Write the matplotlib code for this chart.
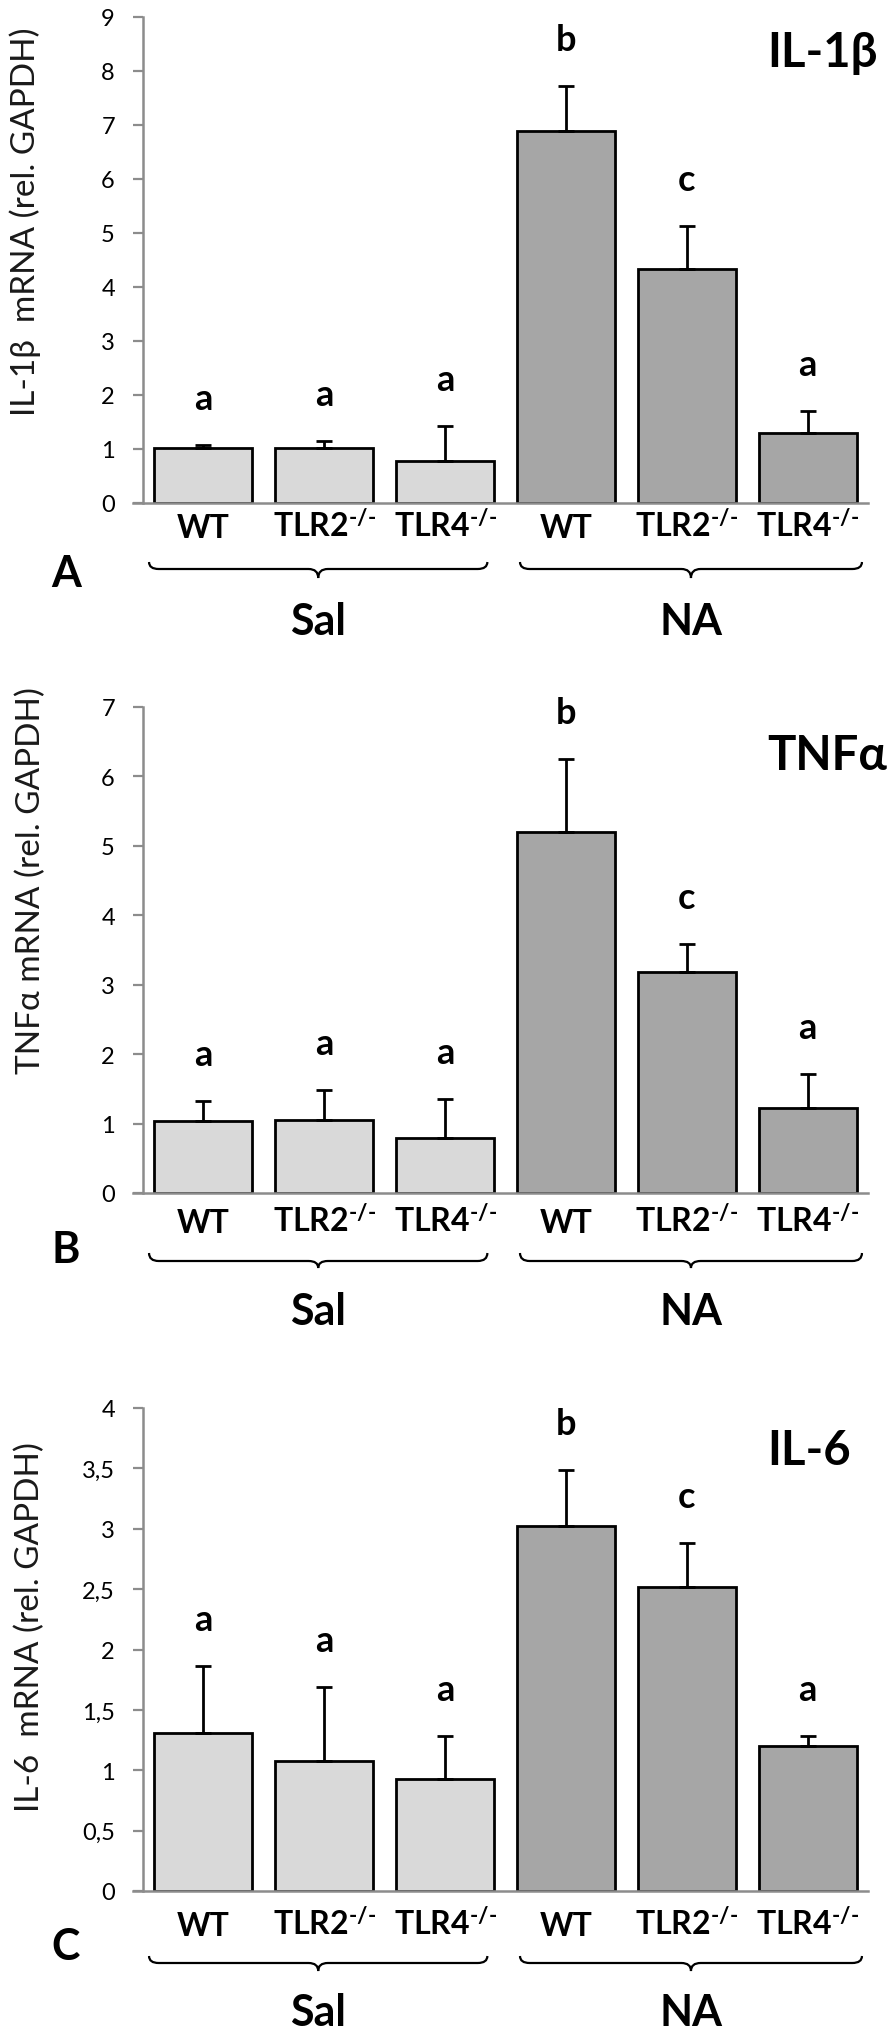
import numpy as np
import matplotlib
matplotlib.use('Agg')
import matplotlib.pyplot as plt
from matplotlib.path import Path
from matplotlib.patches import PathPatch

plt.rcParams['font.family'] = ['Lato', 'Noto Sans', 'DejaVu Sans']
plt.rcParams['mathtext.fontset'] = 'custom'
plt.rcParams['mathtext.rm'] = 'Lato:bold'
plt.rcParams['mathtext.bf'] = 'Lato:bold'
plt.rcParams['mathtext.it'] = 'Lato:bold'

W, H = 894, 2033

# categories
genotypes = ['WT', r'TLR2$^{\text{-/-}}$', r'TLR4$^{\text{-/-}}$',
             'WT', r'TLR2$^{\text{-/-}}$', r'TLR4$^{\text{-/-}}$']
groups = ['Sal', 'NA']
letters = ['a', 'a', 'a', 'b', 'c', 'a']

# IL-1beta
il1b_mean = [1.01, 1.02, 0.78, 6.88, 4.33, 1.30]
il1b_sem = [0.06, 0.12, 0.65, 0.85, 0.80, 0.41]
# TNF alpha
tnf_mean = [1.03, 1.05, 0.79, 5.20, 3.19, 1.22]
tnf_sem = [0.30, 0.44, 0.56, 1.05, 0.40, 0.50]
# IL-6
il6_mean = [1.31, 1.08, 0.93, 3.02, 2.52, 1.20]
il6_sem = [0.55, 0.61, 0.35, 0.47, 0.36, 0.08]

il1b_ticks = [0, 1, 2, 3, 4, 5, 6, 7, 8, 9]
tnf_ticks = [0, 1, 2, 3, 4, 5, 6, 7]
il6_ticks = [0, 0.5, 1, 1.5, 2, 2.5, 3, 3.5, 4]
il6_ticklabels = ['0', '0,5', '1', '1,5', '2', '2,5', '3', '3,5', '4']

bar_colors = ['#d9d9d9'] * 3 + ['#a6a6a6'] * 3
spine_col = '#8c8c8c'

# layout in pixels (y from the top of the image)
panels = [
    dict(mean=il1b_mean, sem=il1b_sem, ticks=il1b_ticks, ticklabels=[str(t) for t in il1b_ticks],
         ylabel='IL-1β  mRNA (rel. GAPDH)', title='IL-1β', tag='A',
         top=18, base=504, ylab=(25, 222), title_y=67, tag_y=587,
         lab_off=34, brace=(59, 66, 75), grp_off=131),
    dict(mean=tnf_mean, sem=tnf_sem, ticks=tnf_ticks, ticklabels=[str(t) for t in tnf_ticks],
         ylabel='TNFα mRNA (rel. GAPDH)', title='TNFα', tag='B',
         top=708, base=1194, ylab=(31, 881), title_y=770, tag_y=1263,
         lab_off=39, brace=(60, 68, 75), grp_off=131),
    dict(mean=il6_mean, sem=il6_sem, ticks=il6_ticks, ticklabels=il6_ticklabels,
         ylabel='IL-6  mRNA (rel. GAPDH)', title='IL-6', tag='C',
         top=1409, base=1892, ylab=(30, 1627), title_y=1465, tag_y=1960,
         lab_off=44, brace=(65, 72, 80), grp_off=134),
]

brace_spans = [(-0.45, 2.35), (2.62, 5.45)]

fig = plt.figure(figsize=(W / 100, H / 100), dpi=100)

x = np.arange(len(genotypes))
ax_left, ax_right = 133, 868
xmin = -0.5 - 10 / 121


def draw_brace(ax, x0, x1, y_tip, y_line, y_pt):
    r = 0.08
    xm = (x0 + x1) / 2
    verts = [(x0, y_tip), (x0, y_line), (x0 + r, y_line),
             (xm - r, y_line),
             (xm, y_line), (xm, y_pt),
             (xm, y_line), (xm + r, y_line),
             (x1 - r, y_line),
             (x1, y_line), (x1, y_tip)]
    codes = [Path.MOVETO, Path.CURVE3, Path.CURVE3,
             Path.LINETO,
             Path.CURVE3, Path.CURVE3,
             Path.CURVE3, Path.CURVE3,
             Path.LINETO,
             Path.CURVE3, Path.CURVE3]
    patch = PathPatch(Path(verts, codes), facecolor='none', edgecolor='black',
                      linewidth=1.6, transform=ax.get_xaxis_transform(), clip_on=False)
    ax.add_patch(patch)


for p in panels:
    h_px = p['base'] - p['top']
    ax = fig.add_axes([ax_left / W, 1 - p['base'] / H, (ax_right - ax_left) / W, h_px / H])
    ax.bar(x, p['mean'], width=0.81, color=bar_colors, edgecolor='black', linewidth=2, zorder=2)
    ax.errorbar(x, p['mean'], yerr=[np.zeros(len(x)), p['sem']], fmt='none', ecolor='black',
                elinewidth=2, capsize=6, capthick=2, zorder=3)

    tops = np.array(p['mean']) + np.array(p['sem'])
    for i, t in enumerate(tops):
        ax.annotate(letters[i], xy=(i, t), xytext=(0, 36), textcoords='offset pixels',
                    ha='center', va='baseline', fontsize=26, fontweight='bold')

    ax.set_xlim(xmin, 5.5)
    ax.set_ylim(0, p['ticks'][-1])
    ax.set_yticks(p['ticks'])
    ax.set_yticklabels(p['ticklabels'])
    ax.set_xticks([])
    ax.tick_params(axis='y', direction='out', length=7.2, width=1.6, color=spine_col,
                   pad=13, labelsize=17, labelcolor='black')
    for s in ['top', 'right']:
        ax.spines[s].set_visible(False)
    for s in ['left', 'bottom']:
        ax.spines[s].set_color(spine_col)
        ax.spines[s].set_linewidth(1.8)
    ax.spines['left'].set_position(('data', -0.5))
    ax.patch.set_visible(False)

    # genotype labels under the axis
    for i, g in enumerate(genotypes):
        ax.annotate(g, xy=(i, 0), xycoords=ax.get_xaxis_transform(),
                    xytext=(0, -p['lab_off']), textcoords='offset pixels',
                    ha='center', va='baseline', fontsize=23, fontweight='bold')

    # braces and group names
    bt, bl, bp = p['brace']
    for (x0, x1), g in zip(brace_spans, groups):
        draw_brace(ax, x0, x1, -bt / h_px, -bl / h_px, -bp / h_px)
        ax.annotate(g, xy=((x0 + x1) / 2, 0), xycoords=ax.get_xaxis_transform(),
                    xytext=(0, -p['grp_off']), textcoords='offset pixels',
                    ha='center', va='baseline', fontsize=31, fontweight='bold')

    fig.text(p['ylab'][0] / W, 1 - p['ylab'][1] / H, p['ylabel'], rotation=90,
             ha='center', va='center', fontsize=24, color='#1a1a1a')
    fig.text(767 / W, 1 - p['title_y'] / H, p['title'], ha='left', va='baseline',
             fontsize=34, fontweight='bold')
    fig.text(66 / W, 1 - p['tag_y'] / H, p['tag'], ha='center', va='baseline',
             fontsize=31, fontweight='bold')

plt.savefig('out.png', dpi=100)
